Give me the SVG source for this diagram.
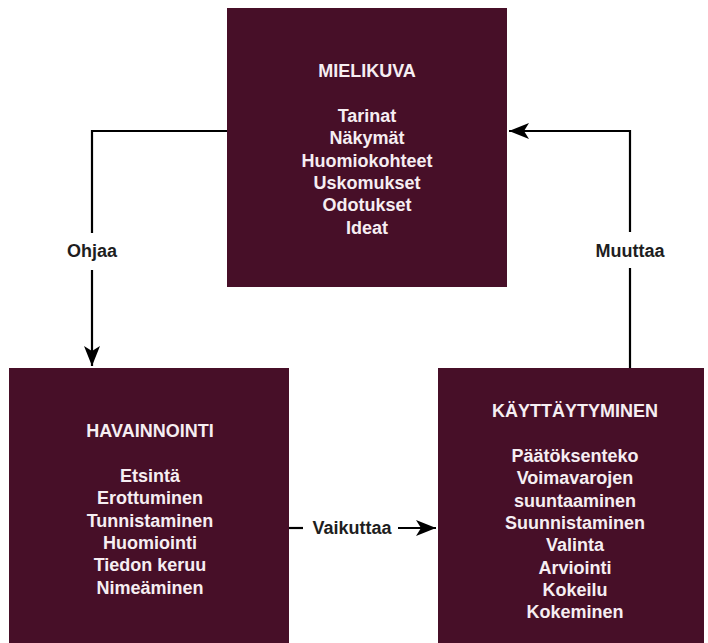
<svg xmlns="http://www.w3.org/2000/svg" width="708" height="643" viewBox="0 0 708 643">
<style>
.box{fill:#470f28;}
.t{font-family:"Liberation Sans",Arial,sans-serif;font-weight:bold;font-size:18px;fill:#f6eef2;text-anchor:middle;}
.lbl{font-family:"Liberation Sans",Arial,sans-serif;font-weight:bold;font-size:18px;fill:#1e1e1e;text-anchor:middle;}
.ln{fill:none;stroke:#000;stroke-width:2.2;}
</style>
<defs>
<marker id="ah" markerUnits="userSpaceOnUse" markerWidth="22" markerHeight="18" refX="20" refY="8" orient="auto">
<path d="M0,0 L20,8 L0,16 L5,8 z" fill="#000"/>
</marker>
</defs>
<rect width="708" height="643" fill="#ffffff"/>
<g id="connectors">
<polyline class="ln" points="227,131 92,131 92,233"/>
<line class="ln" x1="92" y1="270" x2="92" y2="366" marker-end="url(#ah)"/>
<text class="lbl" x="92" y="257">Ohjaa</text>
<polyline class="ln" points="630,368 630,268"/>
<polyline class="ln" points="630,232 630,131 509,131" marker-end="url(#ah)"/>
<text class="lbl" x="630" y="257">Muuttaa</text>
<line class="ln" x1="289" y1="528" x2="303" y2="528"/>
<line class="ln" x1="398" y1="528" x2="436" y2="528" marker-end="url(#ah)"/>
<text class="lbl" x="352" y="534">Vaikuttaa</text>
</g>
<g id="mielikuva">
<rect class="box" x="227" y="8" width="280" height="279"/>
<text class="t" x="367" y="77">MIELIKUVA</text>
<text class="t" x="367" y="122">Tarinat</text>
<text class="t" x="367" y="144.3">Näkymät</text>
<text class="t" x="367" y="166.6">Huomiokohteet</text>
<text class="t" x="367" y="188.9">Uskomukset</text>
<text class="t" x="367" y="211.2">Odotukset</text>
<text class="t" x="367" y="233.5">Ideat</text>
</g>
<g id="havainnointi">
<rect class="box" x="9" y="368" width="280" height="280"/>
<text class="t" x="150" y="437">HAVAINNOINTI</text>
<text class="t" x="150" y="482">Etsintä</text>
<text class="t" x="150" y="504.3">Erottuminen</text>
<text class="t" x="150" y="526.6">Tunnistaminen</text>
<text class="t" x="150" y="548.9">Huomiointi</text>
<text class="t" x="150" y="571.2">Tiedon keruu</text>
<text class="t" x="150" y="593.5">Nimeäminen</text>
</g>
<g id="kayttaytyminen">
<rect class="box" x="438" y="368" width="266" height="280"/>
<text class="t" x="575" y="417">KÄYTTÄYTYMINEN</text>
<text class="t" x="575" y="462">Päätöksenteko</text>
<text class="t" x="575" y="484.3">Voimavarojen</text>
<text class="t" x="575" y="506.6">suuntaaminen</text>
<text class="t" x="575" y="528.9">Suunnistaminen</text>
<text class="t" x="575" y="551.2">Valinta</text>
<text class="t" x="575" y="573.5">Arviointi</text>
<text class="t" x="575" y="595.8">Kokeilu</text>
<text class="t" x="575" y="618.1">Kokeminen</text>
</g>
</svg>
